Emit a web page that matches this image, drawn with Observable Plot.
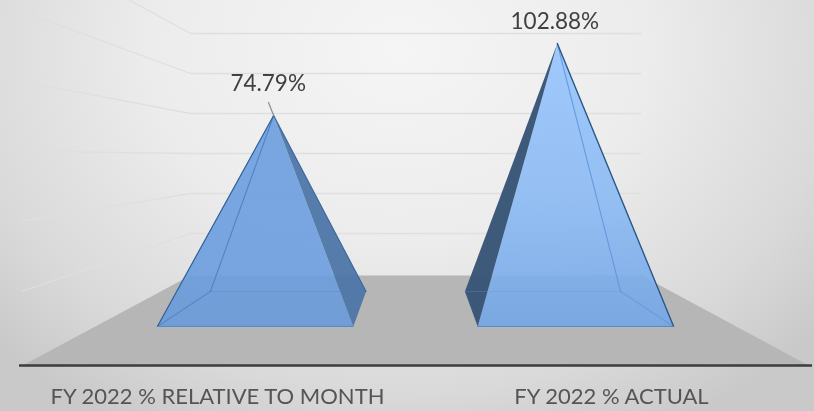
<!DOCTYPE html>
<html>
<head>
<meta charset="utf-8">
<script src="https://cdn.jsdelivr.net/npm/d3@7"></script>
<script src="https://cdn.jsdelivr.net/npm/@observablehq/plot@0.6"></script>
<style>
html,body{margin:0;padding:0;background:#ddd;overflow:hidden}
#chart{width:814px;height:411px}
svg{display:block}
</style>
</head>
<body>
<div id="chart"></div>
<script>
// Data
const categories = ["FY 2022 % RELATIVE TO MONTH", "FY 2022 % ACTUAL"];
const values = [74.79, 102.88];
const wallTicks = [20, 40, 60, 80, 100, 120];

// Perspective view of the 3D chart box
const vp = [415, 156], floorSpan = 393, depthPx = 209, unit = 3.556;
const sFront = 0.813, sBack = 0.646, sMid = 0.72;
const centerX = [-197, 197], halfBase = 120.5;
const wallBase = 273, wallUnit = 2;
const toWall = py => (wallBase - py) / wallUnit;
function project(X, pct, s) {
  return {x: vp[0] + X * s, y: toWall(vp[1] + depthPx * s - unit * pct * s)};
}

const marks = [];

// gradients
marks.push(() => {
  const defs = d3.create("svg:defs");
  const grad = (id, stops) => {
    const g = defs.append("linearGradient").attr("id", id).attr("x1", 0).attr("x2", 0).attr("y1", 0).attr("y2", 1);
    stops.forEach(([o, c]) => g.append("stop").attr("offset", o).attr("stop-color", c));
  };
  grad("front0", [[0, "#6c9edf"], [0.7, "#6c9edf"], [1, "#6a9ada"]]);
  grad("front1", [[0, "#97c5ff"], [0.55, "#8bbaf4"], [1, "#74a6e6"]]);
  return defs.node();
});

// floor
const floor = [
  {x: vp[0] - floorSpan, y: toWall(365)},
  {x: vp[0] + floorSpan, y: toWall(365)},
  {x: 641, y: toWall(275)},
  {x: 190, y: toWall(275)}
];
marks.push(Plot.line([...floor, floor[0]], {x: "x", y: "y", fill: "#b6b6b6", stroke: "none"}));

// gridlines: back wall + left side wall
const wallLeftX = 190, wallRightX = 640, sideEnd = 22;
for (const t of wallTicks) {
  const py = wallBase - wallUnit * t;
  const k = (wallLeftX - sideEnd) / (vp[0] - wallLeftX);
  const yEnd = py + (py - vp[1]) * k;
  marks.push(Plot.line(
    [{x: wallRightX, y: t}, {x: wallLeftX, y: t}, {x: sideEnd, y: toWall(yEnd)}],
    {x: "x", y: "y", stroke: "#dfdfdf", strokeWidth: 1.3}
  ));
}

// pyramids
const styles = [
  {front: "url(#front0)", side: "#4e76a8", edge: "#2f5f98", inner: "#4a7fc2"},
  {front: "url(#front1)", side: "#375576", edge: "#2a5788", inner: "#5f96da"}
];
const face = (pts, fill, opts = {}) =>
  Plot.line([...pts, pts[0]], {x: "x", y: "y", fill, stroke: "none", ...opts});
const edge = (a, b, stroke, strokeWidth, strokeOpacity = 1) =>
  Plot.line([a, b], {x: "x", y: "y", stroke, strokeWidth, strokeOpacity});

values.forEach((v, i) => {
  const c = centerX[i], st = styles[i];
  const apex = project(c, v, sMid);
  const FL = project(c - halfBase, 0, sFront), FR = project(c + halfBase, 0, sFront);
  const BL = project(c - halfBase, 0, sBack), BR = project(c + halfBase, 0, sBack);
  marks.push(face([apex, FL, FR], st.front, {fillOpacity: 0.9}));
  if (i === 0) {
    marks.push(face([apex, FR, BR], st.side, {fillOpacity: 0.95}));
    marks.push(edge(apex, BL, st.inner, 1.1, 0.9), edge(BL, FL, st.inner, 1.1, 0.7), edge(BL, BR, st.inner, 1, 0.3));
    marks.push(edge(apex, BR, st.edge, 1.1, 0.9));
    marks.push(edge(apex, FL, st.edge, 1.2));
  } else {
    marks.push(face([apex, FL, BL], st.side, {fillOpacity: 0.97}));
    marks.push(edge(apex, BR, st.inner, 1.1, 0.9), edge(BR, FR, st.inner, 1.1, 0.7), edge(BL, BR, st.inner, 1, 0.3));
    marks.push(edge(apex, FR, st.edge, 1.4));
  }
  marks.push(edge(FL, FR, "#4f84c8", 1, 0.9));
});

// axis line
marks.push(Plot.ruleY([toWall(365)], {x1: 19, x2: 812, stroke: "#3c3c3c", strokeWidth: 2.6}));

// category labels
const font = "Lato, 'Open Sans', sans-serif";
marks.push(Plot.text(categories, {
  x: (d, i) => vp[0] + centerX[i] - 1,
  y: toWall(396),
  text: d => d,
  fontFamily: font, fontSize: 22, fill: "#555555", textAnchor: "middle"
}));

// value labels with leader
const labelDx = [-5.5, -2.5], labelDy = [32, 22];
const apex0 = project(centerX[0], values[0], sMid);
marks.push(Plot.line(
  [{x: 268, y: toWall(102)}, {x: apex0.x, y: apex0.y}],
  {x: "x", y: "y", stroke: "#8c8c8c", strokeWidth: 1.2}
));
marks.push(Plot.text(values, {
  x: (d, i) => project(centerX[i], d, sMid).x + labelDx[i],
  y: (d, i) => project(centerX[i], d, sMid).y + labelDy[i] / wallUnit,
  text: d => d.toFixed(2) + "%",
  fontFamily: font, fontSize: 22.5, fill: "#404040", textAnchor: "middle"
}));

const chart = Plot.plot({
  width: 814,
  height: 411,
  margin: 0,
  x: {domain: [0, 814], range: [0, 814], axis: null},
  y: {domain: [136.5, -69], range: [0, 411], axis: null},
  style: {
    background: "radial-gradient(ellipse 68% 105% at 49% 12%, #f5f5f5 0%, #ececec 45%, #d9d9d9 80%, #c9c9c9 100%)",
    filter: "blur(0.6px)",
    overflow: "hidden"
  },
  marks
});
document.getElementById("chart").appendChild(chart);
</script>
</body>
</html>
